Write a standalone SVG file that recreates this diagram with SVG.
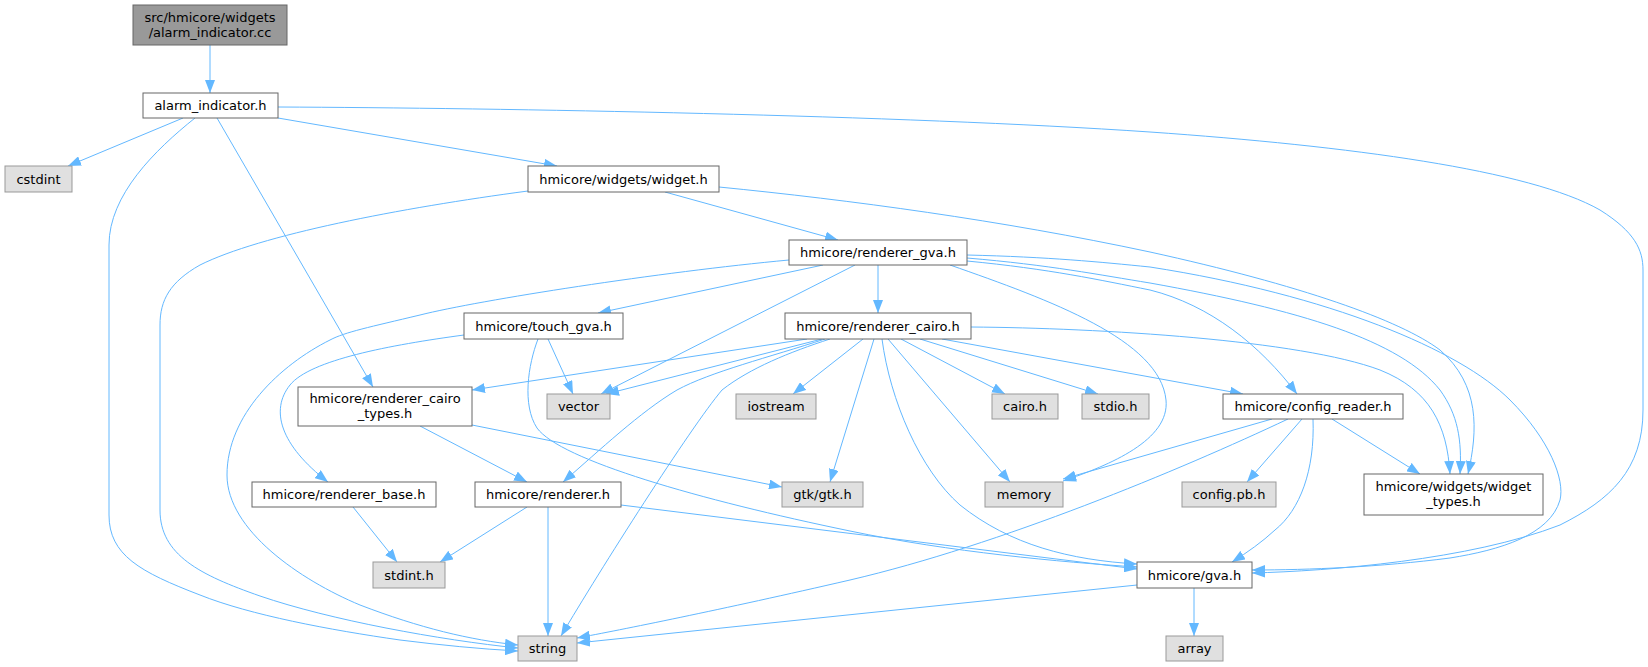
<svg xmlns="http://www.w3.org/2000/svg" width="1648" height="667" viewBox="0 0 1648 667">
<style>
text{font-family:"DejaVu Sans","Liberation Sans",sans-serif;font-size:13px;text-anchor:middle;fill:#000}
.n rect{fill:#fff;stroke:#666;stroke-width:1}
.g rect{fill:#e0e0e0;stroke:#999;stroke-width:1}
.r rect{fill:#999;stroke:#666;stroke-width:1}
#edges path{fill:none;stroke:#63b8ff;stroke-width:1;marker-end:url(#a)}
</style>
<defs>
<marker id="a" markerWidth="13" markerHeight="10" refX="13" refY="5" orient="auto" markerUnits="userSpaceOnUse">
<path d="M0,0 L13,5 L0,10 z" fill="#63b8ff"/>
</marker>
</defs>
<rect width="1648" height="667" fill="#fff"/>
<g id="edges">
<path d="M210,45 L210,93"/>
<path d="M183,118 L68,166"/>
<path d="M195,118 C155,150 109,195 109,245 L109,515 C109,555 140,572 200,595 C250,615 330,630 400,640 C440,645 480,649 518,651"/>
<path d="M217,118 L373,387"/>
<path d="M278,118 L557,166"/>
<path d="M278,107 C500,108 900,115 1150,132 C1350,146 1530,170 1600,210 C1635,232 1643,250 1643,270 L1643,410 C1643,470 1610,500 1560,525 C1470,560 1330,571 1252,573"/>
<path d="M528,191 C400,208 260,235 200,265 C170,282 160,300 160,325 L160,510 C160,555 200,575 260,596 C330,620 440,640 518,648"/>
<path d="M665,192 L838,240"/>
<path d="M719,187 C850,200 1000,220 1150,252 C1300,285 1400,320 1440,350 C1480,385 1478,430 1468,474"/>
<path d="M789,260 C660,272 480,300 420,315 C370,327 345,332 330,340 C280,365 227,415 227,475 C227,530 300,580 360,605 C420,628 470,640 518,645"/>
<path d="M823,265 L598,313"/>
<path d="M855,265 L601,394"/>
<path d="M878,265 L878,313"/>
<path d="M950,265 C1050,300 1160,340 1166,400 C1170,440 1110,465 1063,481"/>
<path d="M967,261 C1050,269 1100,280 1150,290 C1210,305 1260,345 1297,394"/>
<path d="M967,258 C1050,265 1100,275 1150,283 C1300,310 1400,340 1440,390 C1458,415 1462,440 1460,474"/>
<path d="M967,255 C1050,257 1100,262 1150,267 C1330,295 1460,350 1510,400 C1550,440 1565,480 1560,500 C1550,535 1500,550 1450,558 C1380,567 1310,570 1252,570"/>
<path d="M464,335 C390,345 310,360 290,385 C270,410 280,445 328,482"/>
<path d="M548,339 L573,394"/>
<path d="M538,339 C528,365 522,405 537,428 C560,460 700,500 850,531 C950,552 1060,562 1137,567"/>
<path d="M807,339 L472,390"/>
<path d="M822,339 L606,394"/>
<path d="M825,339 C770,357 710,372 677,390 C640,412 600,450 563,482"/>
<path d="M830,339 C790,352 750,368 722,390 C690,428 600,570 561,636"/>
<path d="M863,339 L793,394"/>
<path d="M874,339 L830,482"/>
<path d="M882,339 C890,400 920,470 960,505 C1010,545 1070,560 1137,564"/>
<path d="M888,339 L1010,482"/>
<path d="M901,339 L1005,394"/>
<path d="M920,339 L1098,394"/>
<path d="M942,339 L1243,394"/>
<path d="M971,327 C1100,328 1300,340 1380,370 C1430,390 1447,425 1450,474"/>
<path d="M420,426 L527,482"/>
<path d="M472,425 L782,487"/>
<path d="M353,507 L397,562"/>
<path d="M527,507 L440,562"/>
<path d="M548,507 L548,636"/>
<path d="M621,505 L1137,569"/>
<path d="M1272,419 L1063,479"/>
<path d="M1288,419 C1180,470 1000,545 850,580 C720,610 620,630 577,638"/>
<path d="M1302,419 L1247,482"/>
<path d="M1313,419 C1315,470 1300,510 1275,530 C1262,542 1248,552 1232,562"/>
<path d="M1332,419 L1420,474"/>
<path d="M1137,585 L577,643"/>
<path d="M1194,588 L1194,636"/>
</g>
<g id="node-alarm-indicator-cc" class="r"><rect x="133" y="5" width="154" height="40"/><text x="210" y="21.5">src/hmicore/widgets</text><text x="210" y="36.5">/alarm_indicator.cc</text></g>
<g id="node-alarm-indicator-h" class="n"><rect x="143" y="93" width="135" height="25"/><text x="210.5" y="110">alarm_indicator.h</text></g>
<g id="node-cstdint" class="g"><rect x="5" y="166" width="67" height="26"/><text x="38.5" y="183.5">cstdint</text></g>
<g id="node-widget-h" class="n"><rect x="528" y="166" width="191" height="26"/><text x="623.5" y="183.5">hmicore/widgets/widget.h</text></g>
<g id="node-renderer-gva" class="n"><rect x="789" y="240" width="178" height="25"/><text x="878" y="257">hmicore/renderer_gva.h</text></g>
<g id="node-touch-gva" class="n"><rect x="464" y="313" width="159" height="26"/><text x="543.5" y="330.5">hmicore/touch_gva.h</text></g>
<g id="node-renderer-cairo" class="n"><rect x="785" y="313" width="186" height="26"/><text x="878" y="330.5">hmicore/renderer_cairo.h</text></g>
<g id="node-renderer-cairo-types" class="n"><rect x="298" y="387" width="174" height="39"/><text x="385" y="402.5">hmicore/renderer_cairo</text><text x="385" y="417.5">_types.h</text></g>
<g id="node-vector" class="g"><rect x="547" y="394" width="63" height="25"/><text x="578.5" y="411">vector</text></g>
<g id="node-iostream" class="g"><rect x="736" y="394" width="80" height="25"/><text x="776" y="411">iostream</text></g>
<g id="node-cairo-h" class="g"><rect x="992" y="394" width="66" height="25"/><text x="1025" y="411">cairo.h</text></g>
<g id="node-stdio-h" class="g"><rect x="1082" y="394" width="67" height="25"/><text x="1115.5" y="411">stdio.h</text></g>
<g id="node-config-reader" class="n"><rect x="1223" y="394" width="180" height="25"/><text x="1313" y="411">hmicore/config_reader.h</text></g>
<g id="node-renderer-base" class="n"><rect x="252" y="482" width="184" height="25"/><text x="344" y="499">hmicore/renderer_base.h</text></g>
<g id="node-renderer-h" class="n"><rect x="475" y="482" width="146" height="25"/><text x="548" y="499">hmicore/renderer.h</text></g>
<g id="node-gtk" class="g"><rect x="782" y="482" width="81" height="25"/><text x="822.5" y="499">gtk/gtk.h</text></g>
<g id="node-memory" class="g"><rect x="985" y="482" width="78" height="25"/><text x="1024" y="499">memory</text></g>
<g id="node-config-pb" class="g"><rect x="1182" y="482" width="94" height="25"/><text x="1229" y="499">config.pb.h</text></g>
<g id="node-widget-types" class="n"><rect x="1364" y="474" width="179" height="41"/><text x="1453.5" y="491">hmicore/widgets/widget</text><text x="1453.5" y="506">_types.h</text></g>
<g id="node-stdint" class="g"><rect x="373" y="562" width="72" height="26"/><text x="409" y="579.5">stdint.h</text></g>
<g id="node-gva-h" class="n"><rect x="1137" y="562" width="115" height="26"/><text x="1194.5" y="579.5">hmicore/gva.h</text></g>
<g id="node-string" class="g"><rect x="518" y="636" width="59" height="25"/><text x="547.5" y="653">string</text></g>
<g id="node-array" class="g"><rect x="1166" y="636" width="57" height="25"/><text x="1194.5" y="653">array</text></g>
</svg>
